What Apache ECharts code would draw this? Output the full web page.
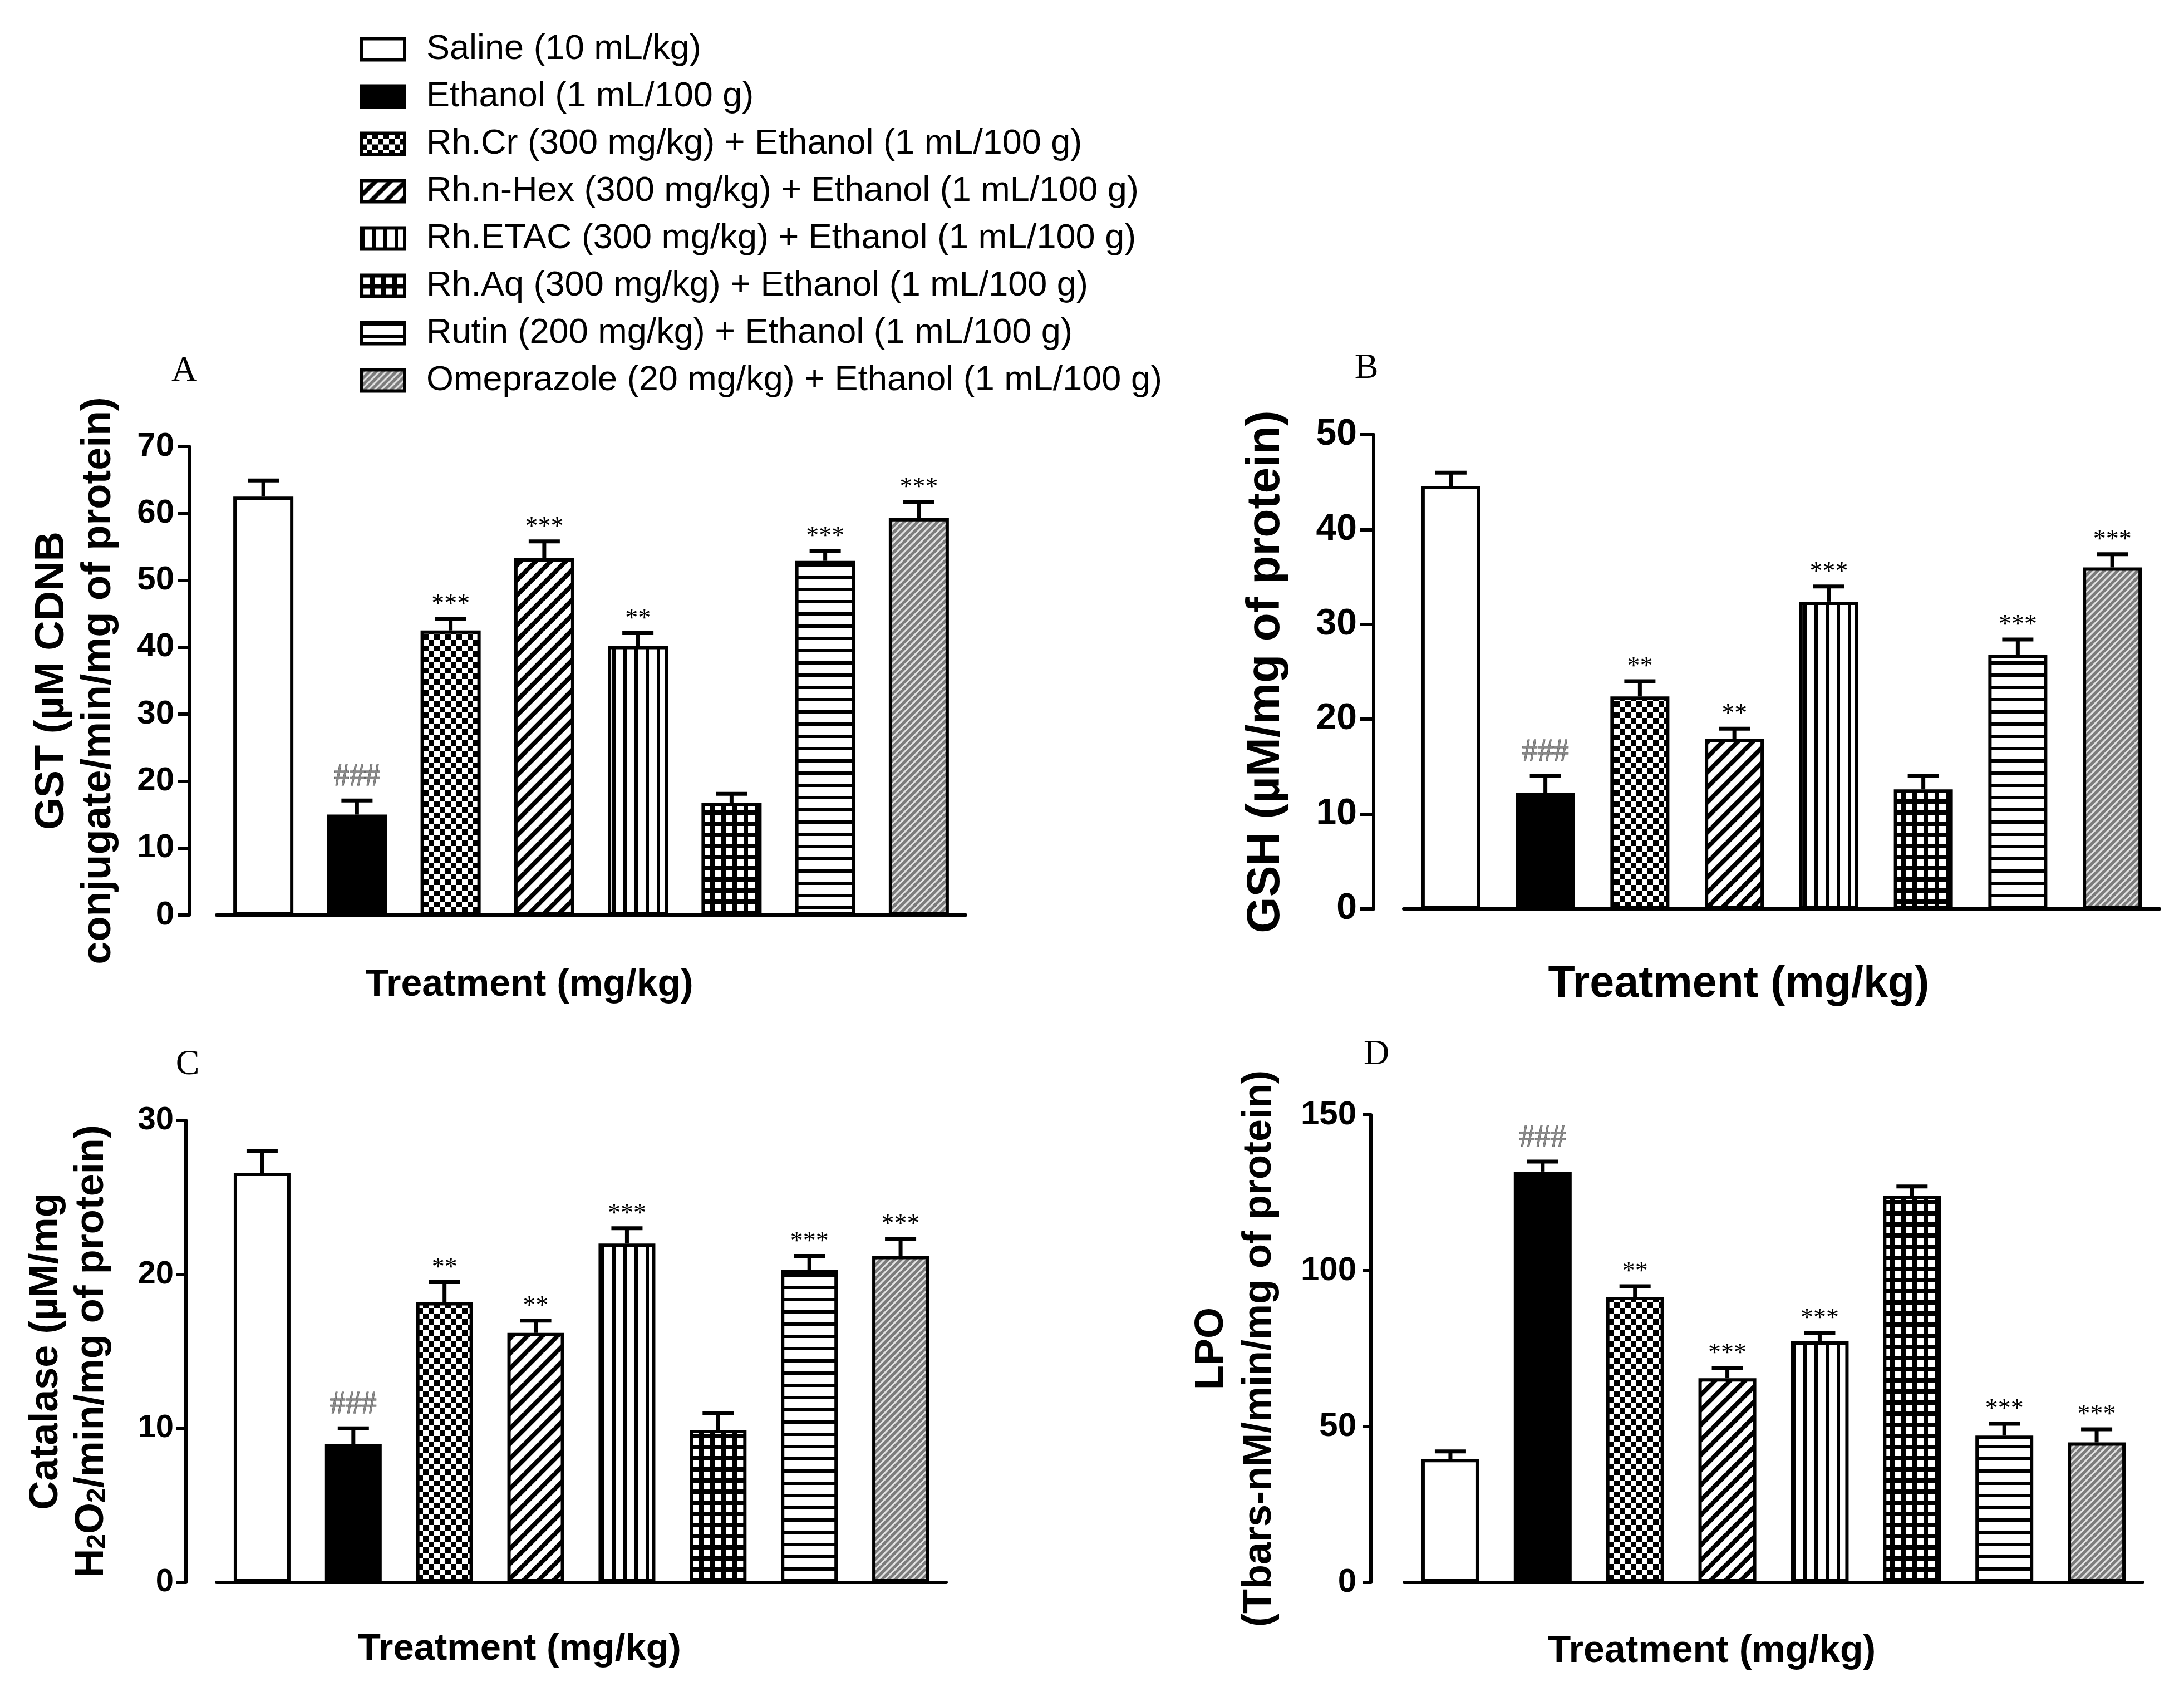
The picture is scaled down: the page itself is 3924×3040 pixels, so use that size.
<!DOCTYPE html>
<html>
<head>
<meta charset="utf-8">
<script src="https://cdn.jsdelivr.net/npm/echarts@6/dist/echarts.min.js"></script>
<style>
  html, body { margin: 0; padding: 0; background: #fff; }
  #chart { width: 3924px; height: 3040px; }
</style>
</head>
<body>
<div id="chart"></div>
<script>
// treatment groups, same order in every panel
const groups = [
  'Saline (10 mL/kg)',
  'Ethanol (1 mL/100 g)',
  'Rh.Cr (300 mg/kg) + Ethanol (1 mL/100 g)',
  'Rh.n-Hex (300 mg/kg) + Ethanol (1 mL/100 g)',
  'Rh.ETAC (300 mg/kg) + Ethanol (1 mL/100 g)',
  'Rh.Aq (300 mg/kg) + Ethanol (1 mL/100 g)',
  'Rutin (200 mg/kg) + Ethanol (1 mL/100 g)',
  'Omeprazole (20 mg/kg) + Ethanol (1 mL/100 g)'
];

// A - GST
const gstMean = [62.5, 15.0, 42.5, 53.3, 40.2, 16.7, 52.9, 59.3];
const gstErr  = [2.4, 2.1, 1.7, 2.5, 1.9, 1.4, 1.5, 2.4];
const gstSig  = ['', '###', '***', '***', '**', '', '***', '***'];
const gstTicks = [0, 70, 10];

// B - GSH
const gshMean = [44.6, 12.2, 22.4, 17.9, 32.4, 12.6, 26.8, 36.0];
const gshErr  = [1.4, 1.8, 1.6, 1.1, 1.6, 1.4, 1.6, 1.4];
const gshSig  = ['', '###', '**', '**', '***', '', '***', '***'];
const gshTicks = [0, 50, 10];

// C - Catalase
const catMean = [26.6, 9.0, 18.2, 16.2, 22.0, 9.9, 20.3, 21.2];
const catErr  = [1.4, 1.0, 1.3, 0.8, 1.0, 1.1, 0.9, 1.1];
const catSig  = ['', '###', '**', '**', '***', '', '***', '***'];
const catTicks = [0, 30, 10];

// D - LPO
const lpoMean = [39.6, 131.8, 91.6, 65.5, 77.3, 124.1, 47.1, 44.9];
const lpoErr  = [2.4, 3.2, 3.4, 3.3, 2.8, 2.9, 3.8, 4.2];
const lpoSig  = ['', '###', '**', '***', '***', '', '***', '***'];
const lpoTicks = [0, 150, 50];

const xTitle = 'Treatment (mg/kg)';

const SANS = '"Liberation Sans", Arial, Helvetica, sans-serif';
const SERIF = '"Liberation Serif", "Times New Roman", serif';

// hatch fills drawn on small canvases
function makePattern(kind) {
    const c = document.createElement('canvas');
    let s = 20;
    if (kind === 'diag') s = 27;
    if (kind === 'horiz') s = 22;
    if (kind === 'fine') s = 12;
    c.width = s; c.height = s;
    const ctx = c.getContext('2d');
    ctx.fillStyle = '#fff';
    ctx.fillRect(0, 0, s, s);
    ctx.fillStyle = '#000';
    if (kind === 'checker') {
        ctx.fillRect(0, 0, 10, 10);
        ctx.fillRect(10, 10, 10, 10);
    } else if (kind === 'diag' || kind === 'fine') {
        if (kind === 'fine') {
            ctx.fillStyle = '#7c7c7c';
            ctx.fillRect(0, 0, s, s);
        }
        ctx.strokeStyle = kind === 'fine' ? '#e2e2e2' : '#000';
        ctx.lineWidth = kind === 'fine' ? 3.2 : 8;
        for (let k = -1; k <= 1; k++) {
            ctx.beginPath();
            ctx.moveTo(k * s - 2, s + 2);
            ctx.lineTo(k * s + s + 2, -2);
            ctx.stroke();
        }
    } else if (kind === 'vert') {
        ctx.fillRect(0, 0, 6, s);
    } else if (kind === 'grid') {
        ctx.fillRect(0, 0, s, s);
        ctx.fillStyle = '#fff';
        ctx.fillRect(4, 4, 12, 12);
    } else if (kind === 'horiz') {
        ctx.fillRect(0, 0, s, 6);
    }
    return { image: c, repeat: 'repeat' };
}

const fills = [
    '#ffffff',
    '#000000',
    makePattern('checker'),
    makePattern('diag'),
    makePattern('vert'),
    makePattern('grid'),
    makePattern('horiz'),
    makePattern('fine')
];

const panels = [
    {
        mean: gstMean, err: gstErr, sig: gstSig, ticks: gstTicks,
        grid: { left: 389, top: 802, width: 1346, height: 842 },
        barWidth: 108, yOffset: 49, xOffset: 52, tickLen: 20, labelSize: 60, labelMargin: 27,
        yName: 'GST (µM CDNB\nconjugate/min/mg of protein)', yNameSize: 74, yNameLine: 84, yNameGap: 120,
        xNameSize: 68, xNameGap: 40, xShift: 222
    },
    {
        mean: gshMean, err: gshErr, sig: gshSig, ticks: gshTicks,
        grid: { left: 2522, top: 781, width: 1358, height: 852 },
        barWidth: 106, yOffset: 54, xOffset: 59, tickLen: 24, labelSize: 66, labelMargin: 30,
        yName: 'GSH (µM/mg of protein)', yNameSize: 84, yNameLine: 90, yNameGap: 148,
        xNameSize: 79, xNameGap: 38, xShift: 154
    },
    {
        mean: catMean, err: catErr, sig: catSig, ticks: catTicks,
        grid: { left: 389, top: 2013, width: 1311, height: 830 },
        barWidth: 102, yOffset: 55, xOffset: 57, tickLen: 17, labelSize: 58, labelMargin: 22,
        yName: 'Catalase (µM/mg\nH{sub|2}O{sub|2}/min/mg of protein)', yNameSize: 72, yNameLine: 82, yNameGap: 128,
        xNameSize: 67, xNameGap: 30, xShift: 222
    },
    {
        mean: lpoMean, err: lpoErr, sig: lpoSig, ticks: lpoTicks,
        grid: { left: 2523, top: 2003, width: 1327, height: 840 },
        barWidth: 104, yOffset: 60, xOffset: 50, tickLen: 14, labelSize: 60, labelMargin: 26,
        yName: 'LPO\n(Tbars-nM/min/mg of protein)', yNameSize: 72, yNameLine: 86, yNameGap: 157,
        xNameSize: 68, xNameGap: 40, xShift: 222
    }
];

const letters = [
    { text: 'A', x: 331, y: 667 },
    { text: 'B', x: 2455, y: 662 },
    { text: 'C', x: 337, y: 1913 },
    { text: 'D', x: 2473, y: 1895 }
];

function errorSeries(p, idx) {
    return {
        type: 'custom',
        xAxisIndex: idx,
        yAxisIndex: idx,
        z: 5,
        silent: true,
        data: p.mean.map((m, i) => [i, m, m + p.err[i]]),
        encode: { x: 0, y: [1, 2] },
        renderItem: (params, api) => {
            const i = api.value(0);
            const base = api.coord([i, api.value(1)]);
            const top = api.coord([i, api.value(2)]);
            const half = 28;
            const children = [
                { type: 'line', shape: { x1: base[0], y1: base[1], x2: top[0], y2: top[1] }, style: { stroke: '#000', lineWidth: 7 } },
                { type: 'line', shape: { x1: top[0] - half, y1: top[1], x2: top[0] + half, y2: top[1] }, style: { stroke: '#000', lineWidth: 7 } }
            ];
            const s = p.sig[params.dataIndex];
            if (s) {
                const hash = s[0] === '#';
                children.push({
                    type: 'text',
                    style: {
                        text: s,
                        x: top[0],
                        y: top[1] - (hash ? 14 : 2),
                        align: 'center',
                        verticalAlign: 'bottom',
                        font: (hash ? '56px ' : '46px ') + SERIF,
                        fill: hash ? '#8a8a8a' : '#000',
                        stroke: hash ? '#444' : null,
                        lineWidth: hash ? 1 : 0
                    }
                });
            }
            return { type: 'group', children };
        }
    };
}

const grids = [], xAxes = [], yAxes = [], series = [];
panels.forEach((p, idx) => {
    grids.push(Object.assign({ containLabel: false }, p.grid));
    xAxes.push({
        type: 'category',
        gridIndex: idx,
        data: groups,
        offset: p.xOffset,
        axisLine: { lineStyle: { color: '#000', width: 6 } },
        axisTick: { show: false },
        axisLabel: { show: false },
        splitLine: { show: false },
        name: xTitle,
        nameLocation: 'middle',
        nameGap: p.xNameGap,
        nameTextStyle: {
            fontFamily: SANS, fontWeight: 'bold', fontSize: p.xNameSize, color: '#000',
            padding: [0, p.xShift, 0, 0]
        }
    });
    yAxes.push({
        type: 'value',
        gridIndex: idx,
        min: p.ticks[0],
        max: p.ticks[1],
        interval: p.ticks[2],
        offset: p.yOffset,
        axisLine: { show: true, lineStyle: { color: '#000', width: 6 } },
        axisTick: { show: true, length: p.tickLen, lineStyle: { color: '#000', width: 6 } },
        axisLabel: { fontFamily: SANS, fontWeight: 'bold', fontSize: p.labelSize, color: '#000', margin: p.labelMargin },
        splitLine: { show: false },
        name: p.yName,
        nameLocation: 'middle',
        nameRotate: 90,
        nameGap: p.yNameGap,
        nameTextStyle: {
            fontFamily: SANS, fontWeight: 'bold', fontSize: p.yNameSize, lineHeight: p.yNameLine, color: '#000',
            rich: {
                sub: { fontFamily: SANS, fontWeight: 'bold', fontSize: 48, color: '#000', padding: [22, 0, 0, 0] }
            }
        }
    });
    groups.forEach((g, k) => {
        series.push({
            type: 'bar',
            name: g,
            xAxisIndex: idx,
            yAxisIndex: idx,
            barWidth: p.barWidth,
            barGap: '-100%',
            data: p.mean.map((m, i) => (i === k ? m : '-')),
            itemStyle: { color: fills[k], borderColor: '#000', borderWidth: 6 },
            emphasis: { disabled: true },
            z: 2
        });
    });
    series.push(errorSeries(p, idx));
});

const option = {
    backgroundColor: '#ffffff',
    animation: false,
    grid: grids,
    xAxis: xAxes,
    yAxis: yAxes,
    legend: {
        data: groups,
        orient: 'vertical',
        left: 641,
        top: 52,
        icon: 'rect',
        itemWidth: 78,
        itemHeight: 38,
        itemGap: 22,
        selectedMode: false,
        itemStyle: { borderColor: '#000', borderWidth: 6 },
        textStyle: { fontFamily: SANS, fontSize: 63, color: '#000', lineHeight: 62, padding: [0, 0, 0, 34] }
    },
    graphic: letters.map(l => ({
        type: 'text',
        x: l.x,
        y: l.y,
        style: { text: l.text, font: '64px ' + SERIF, fill: '#000', align: 'center', verticalAlign: 'middle' }
    })),
    series: series
};

const myChart = echarts.init(document.getElementById('chart'), null, { renderer: 'canvas' });
myChart.setOption(option);
</script>
</body>
</html>
